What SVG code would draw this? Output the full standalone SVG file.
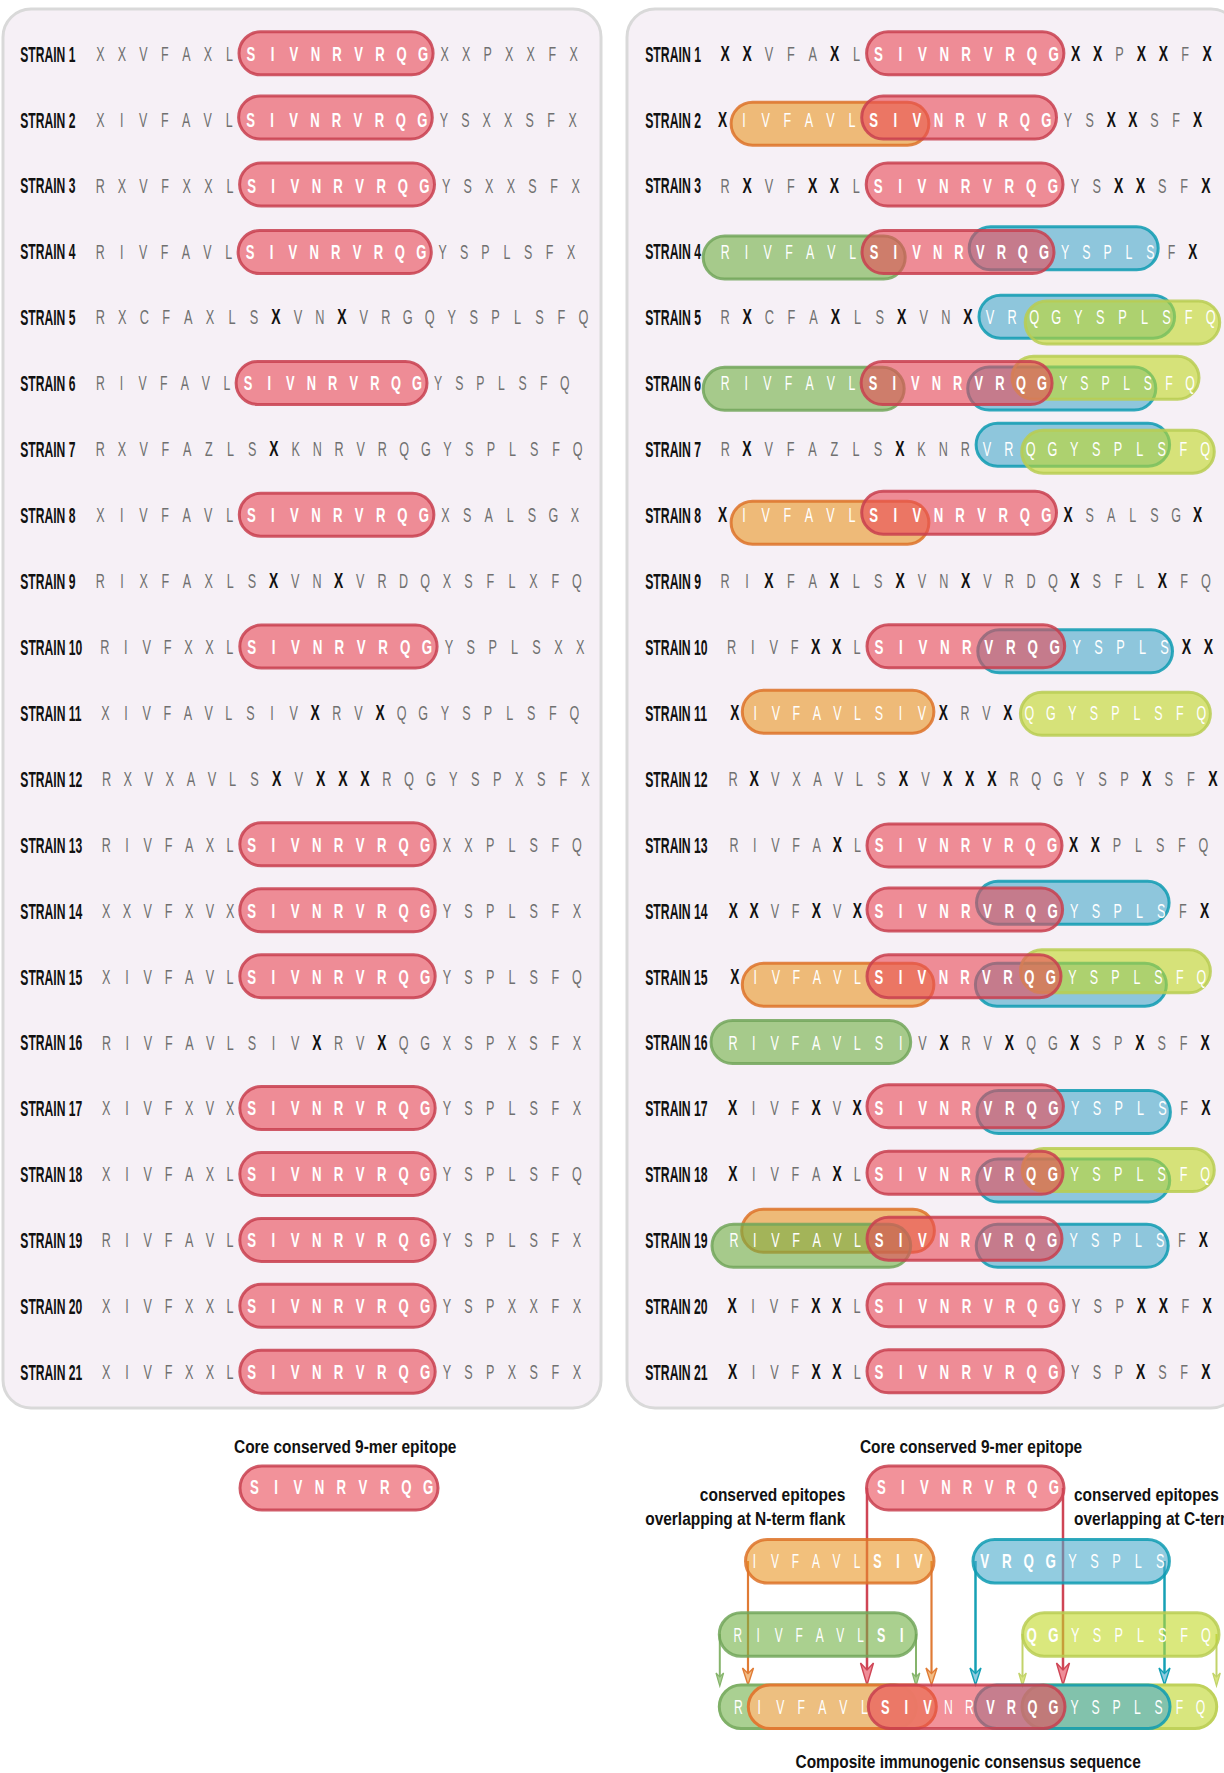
<svg xmlns="http://www.w3.org/2000/svg" width="1224" height="1773" viewBox="0 0 1224 1773">
<style>
text{font-family:"Liberation Sans",Arial,Helvetica,sans-serif}
.g{font-size:20px;fill:#707070;text-anchor:middle}
.b{font-size:22px;font-weight:bold;fill:#111;text-anchor:middle}
.w{font-size:20px;fill:#fff;text-anchor:middle}
.wb{font-size:21px;font-weight:bold;fill:#fff;text-anchor:middle}
.lbl{font-size:22px;font-weight:bold;fill:#111}
.cap{font-size:17.5px;font-weight:bold;fill:#111}
.panel{fill:#f6f0f6;stroke:#d9d9d9;stroke-width:3}
.pr{fill:#e94956;fill-opacity:.6;stroke:#c8404f;stroke-opacity:.85;stroke-width:3}
.po{fill:#e99624;fill-opacity:.6;stroke:#dd7228;stroke-opacity:.85;stroke-width:3}
.pg{fill:#71b145;fill-opacity:.6;stroke:#72a65a;stroke-opacity:.85;stroke-width:3}
.pb{fill:#49aacb;fill-opacity:.6;stroke:#0e9bb1;stroke-opacity:.85;stroke-width:3}
.pl{fill:#c1d927;fill-opacity:.6;stroke:#b8cc52;stroke-opacity:.85;stroke-width:3}
.cpg{fill:#aad092;stroke:#7fb067;stroke-width:3}
.cpo{fill:#f0be80;fill-opacity:.95;stroke:#e07a33;stroke-width:3}
.cpl{fill:#d8e67e;stroke:#bfd15a;stroke-width:3}
.cr{stroke:#cf4555;stroke-width:2.5;fill:none}
.co{stroke:#e07b35;stroke-width:2.2;fill:none}
.cb{stroke:#16a0b5;stroke-width:2.5;fill:none}
.cg{stroke:#86b46c;stroke-width:2;fill:none}
.cl{stroke:#c2d36a;stroke-width:2;fill:none}
</style>
<defs>
<marker id="ah-red" markerUnits="userSpaceOnUse" viewBox="-26 -10 30 20" markerWidth="30" markerHeight="20" refX="-8" refY="0" orient="auto"><path d="M0,0 L-22,-6.5 L-15,0 L-22,6.5 Z" fill="#ef8d98" stroke="#cf4555" stroke-width="1.4"/></marker>
<marker id="ah-orange" markerUnits="userSpaceOnUse" viewBox="-22 -8 26 16" markerWidth="26" markerHeight="16" refX="-6" refY="0" orient="auto"><path d="M0,0 L-17,-5.5 L-11.5,0 L-17,5.5 Z" fill="#f2bd86" stroke="#e07b35" stroke-width="1.4"/></marker>
<marker id="ah-blue" markerUnits="userSpaceOnUse" viewBox="-22 -8 26 16" markerWidth="26" markerHeight="16" refX="-6" refY="0" orient="auto"><path d="M0,0 L-17,-5.5 L-11.5,0 L-17,5.5 Z" fill="#8fcbe0" stroke="#13a0b5" stroke-width="1.4"/></marker>
<marker id="ah-green" markerUnits="userSpaceOnUse" viewBox="-18 -6 22 12" markerWidth="22" markerHeight="12" refX="-5" refY="0" orient="auto"><path d="M0,0 L-13,-3.8 L-9,0 L-13,3.8 Z" fill="#a9cf92" stroke="#86b46c" stroke-width="1.2"/></marker>
<marker id="ah-lime" markerUnits="userSpaceOnUse" viewBox="-18 -6 22 12" markerWidth="22" markerHeight="12" refX="-5" refY="0" orient="auto"><path d="M0,0 L-13,-3.8 L-9,0 L-13,3.8 Z" fill="#d8e57e" stroke="#c2d36a" stroke-width="1.2"/></marker>
</defs>
<rect width="1224" height="1773" fill="#fff"/>

<g id="left-panel">
<rect class="panel" x="3" y="9" width="598" height="1399" rx="28"/>
<g id="left-strain-1">
<rect class="pr" x="239" y="31.8" width="194.1" height="43" rx="21.5"/>
<text class="lbl" transform="translate(20.3 61.6) scale(0.55 1)">STRAIN 1</text>
<g transform="translate(100.3 0) scale(0.6238 1)">
<text class="g" y="60.8" x="0 34.5 69 103.5 138 172.5 207">XXVFAXL</text>
<text class="wb" y="60.8" x="241.5 276 310.5 345 379.5 414 448.5 483 517.5">SIVNRVRQG</text>
<text class="g" y="60.8" x="552 586.5 621 655.5 690 724.5 759">XXPXXFX</text>
</g></g>
<g id="left-strain-2">
<rect class="pr" x="238.6" y="96" width="193.7" height="43" rx="21.5"/>
<text class="lbl" transform="translate(20.3 127.5) scale(0.55 1)">STRAIN 2</text>
<g transform="translate(100.3 0) scale(0.6223 1)">
<text class="g" y="126.7" x="0 34.5 69 103.5 138 172.5 207">XIVFAVL</text>
<text class="wb" y="126.7" x="241.5 276 310.5 345 379.5 414 448.5 483 517.5">SIVNRVRQG</text>
<text class="g" y="126.7" x="552 586.5 621 655.5 690 724.5 759">YSXXSFX</text>
</g></g>
<g id="left-strain-3">
<rect class="pr" x="239.6" y="163" width="194.9" height="43" rx="21.5"/>
<text class="lbl" transform="translate(20.3 193.4) scale(0.55 1)">STRAIN 3</text>
<g transform="translate(100.3 0) scale(0.6264 1)">
<text class="g" y="192.6" x="0 34.5 69 103.5 138 172.5 207">RXVFXXL</text>
<text class="wb" y="192.6" x="241.5 276 310.5 345 379.5 414 448.5 483 517.5">SIVNRVRQG</text>
<text class="g" y="192.6" x="552 586.5 621 655.5 690 724.5 759">YSXXSFX</text>
</g></g>
<g id="left-strain-4">
<rect class="pr" x="238.1" y="230.6" width="193.2" height="43" rx="21.5"/>
<text class="lbl" transform="translate(20.3 259.4) scale(0.55 1)">STRAIN 4</text>
<g transform="translate(100.3 0) scale(0.6202 1)">
<text class="g" y="258.6" x="0 34.5 69 103.5 138 172.5 207">RIVFAVL</text>
<text class="wb" y="258.6" x="241.5 276 310.5 345 379.5 414 448.5 483 517.5">SIVNRVRQG</text>
<text class="g" y="258.6" x="552 586.5 621 655.5 690 724.5 759">YSPLSFX</text>
</g></g>
<g id="left-strain-5">
<text class="lbl" transform="translate(20.3 325.3) scale(0.55 1)">STRAIN 5</text>
<g transform="translate(100.3 0) scale(0.6366 1)">
<text class="g" y="324.5" x="0 34.5 69 103.5 138 172.5 207 241.5">RXCFAXLS</text>
<text class="b" y="324.5" x="276">X</text>
<text class="g" y="324.5" x="310.5 345">VN</text>
<text class="b" y="324.5" x="379.5">X</text>
<text class="g" y="324.5" x="414 448.5 483 517.5 552 586.5 621 655.5 690 724.5 759">VRGQYSPLSFQ</text>
</g></g>
<g id="left-strain-6">
<rect class="pr" x="236.1" y="361.4" width="190.9" height="43" rx="21.5"/>
<text class="lbl" transform="translate(20.3 391.2) scale(0.55 1)">STRAIN 6</text>
<g transform="translate(100.3 0) scale(0.6120 1)">
<text class="g" y="390.4" x="0 34.5 69 103.5 138 172.5 207">RIVFAVL</text>
<text class="wb" y="390.4" x="241.5 276 310.5 345 379.5 414 448.5 483 517.5">SIVNRVRQG</text>
<text class="g" y="390.4" x="552 586.5 621 655.5 690 724.5 759">YSPLSFQ</text>
</g></g>
<g id="left-strain-7">
<text class="lbl" transform="translate(20.3 457.1) scale(0.55 1)">STRAIN 7</text>
<g transform="translate(100.3 0) scale(0.6290 1)">
<text class="g" y="456.3" x="0 34.5 69 103.5 138 172.5 207 241.5">RXVFAZLS</text>
<text class="b" y="456.3" x="276">X</text>
<text class="g" y="456.3" x="310.5 345 379.5 414 448.5 483 517.5 552 586.5 621 655.5 690 724.5 759">KNRVRQGYSPLSFQ</text>
</g></g>
<g id="left-strain-8">
<rect class="pr" x="239.3" y="493.2" width="194.6" height="43" rx="21.5"/>
<text class="lbl" transform="translate(20.3 523) scale(0.55 1)">STRAIN 8</text>
<g transform="translate(100.3 0) scale(0.6254 1)">
<text class="g" y="522.2" x="0 34.5 69 103.5 138 172.5 207">XIVFAVL</text>
<text class="wb" y="522.2" x="241.5 276 310.5 345 379.5 414 448.5 483 517.5">SIVNRVRQG</text>
<text class="g" y="522.2" x="552 586.5 621 655.5 690 724.5 759">XSALSGX</text>
</g></g>
<g id="left-strain-9">
<text class="lbl" transform="translate(20.3 589) scale(0.55 1)">STRAIN 9</text>
<g transform="translate(100.3 0) scale(0.6279 1)">
<text class="g" y="588.2" x="0 34.5 69 103.5 138 172.5 207 241.5">RIXFAXLS</text>
<text class="b" y="588.2" x="276">X</text>
<text class="g" y="588.2" x="310.5 345">VN</text>
<text class="b" y="588.2" x="379.5">X</text>
<text class="g" y="588.2" x="414 448.5 483 517.5 552 586.5 621 655.5 690 724.5 759">VRDQXSFLXFQ</text>
</g></g>
<g id="left-strain-10">
<rect class="pr" x="239.8" y="625.1" width="197.3" height="43" rx="21.5"/>
<text class="lbl" transform="translate(20.3 654.9) scale(0.551 1)">STRAIN 10</text>
<g transform="translate(98.4 0) scale(0.635 1)">
<text class="g" y="654.1" x="10 43 76 109 142 175 207">RIVFXXL</text>
<text class="wb" y="654.1" x="241.5 276 310.5 345 379.5 414 448.5 483 517.5">SIVNRVRQG</text>
<text class="g" y="654.1" x="552 586.5 621 655.5 690 724.5 759">YSPLSXX</text>
</g></g>
<g id="left-strain-11">
<text class="lbl" transform="translate(20.3 720.8) scale(0.551 1)">STRAIN 11</text>
<g transform="translate(99.1 0) scale(0.6263 1)">
<text class="g" y="720" x="10 43 76 109 142 175 207 241.5 276 310.5">XIVFAVLSIV</text>
<text class="b" y="720" x="345">X</text>
<text class="g" y="720" x="379.5 414">RV</text>
<text class="b" y="720" x="448.5">X</text>
<text class="g" y="720" x="483 517.5 552 586.5 621 655.5 690 724.5 759">QGYSPLSFQ</text>
</g></g>
<g id="left-strain-12">
<text class="lbl" transform="translate(20.3 786.7) scale(0.551 1)">STRAIN 12</text>
<g transform="translate(100.2 0) scale(0.6394 1)">
<text class="g" y="785.9" x="10 43 76 109 142 175 207 241.5">RXVXAVLS</text>
<text class="b" y="785.9" x="276">X</text>
<text class="g" y="785.9" x="310.5">V</text>
<text class="b" y="785.9" x="345 379.5 414">XXX</text>
<text class="g" y="785.9" x="448.5 483 517.5 552 586.5 621 655.5 690 724.5 759">RQGYSPXSFX</text>
</g></g>
<g id="left-strain-13">
<rect class="pr" x="239.8" y="822.8" width="195.4" height="43" rx="21.5"/>
<text class="lbl" transform="translate(20.3 852.6) scale(0.551 1)">STRAIN 13</text>
<g transform="translate(100 0) scale(0.6284 1)">
<text class="g" y="851.8" x="10 43 76 109 142 175 207">RIVFAXL</text>
<text class="wb" y="851.8" x="241.5 276 310.5 345 379.5 414 448.5 483 517.5">SIVNRVRQG</text>
<text class="g" y="851.8" x="552 586.5 621 655.5 690 724.5 759">XXPLSFQ</text>
</g></g>
<g id="left-strain-14">
<rect class="pr" x="239.8" y="888.8" width="195.4" height="43" rx="21.5"/>
<text class="lbl" transform="translate(20.3 918.6) scale(0.551 1)">STRAIN 14</text>
<g transform="translate(100 0) scale(0.6284 1)">
<text class="g" y="917.8" x="10 43 76 109 142 175 207">XXVFXVX</text>
<text class="wb" y="917.8" x="241.5 276 310.5 345 379.5 414 448.5 483 517.5">SIVNRVRQG</text>
<text class="g" y="917.8" x="552 586.5 621 655.5 690 724.5 759">YSPLSFX</text>
</g></g>
<g id="left-strain-15">
<rect class="pr" x="239.8" y="954.7" width="195.4" height="43" rx="21.5"/>
<text class="lbl" transform="translate(20.3 984.5) scale(0.551 1)">STRAIN 15</text>
<g transform="translate(100 0) scale(0.6284 1)">
<text class="g" y="983.7" x="10 43 76 109 142 175 207">XIVFAVL</text>
<text class="wb" y="983.7" x="241.5 276 310.5 345 379.5 414 448.5 483 517.5">SIVNRVRQG</text>
<text class="g" y="983.7" x="552 586.5 621 655.5 690 724.5 759">YSPLSFQ</text>
</g></g>
<g id="left-strain-16">
<text class="lbl" transform="translate(20.3 1050.4) scale(0.551 1)">STRAIN 16</text>
<g transform="translate(100.3 0) scale(0.6279 1)">
<text class="g" y="1049.6" x="10 43 76 109 142 175 207 241.5 276 310.5">RIVFAVLSIV</text>
<text class="b" y="1049.6" x="345">X</text>
<text class="g" y="1049.6" x="379.5 414">RV</text>
<text class="b" y="1049.6" x="448.5">X</text>
<text class="g" y="1049.6" x="483 517.5 552 586.5 621 655.5 690 724.5 759">QGXSPXSFX</text>
</g></g>
<g id="left-strain-17">
<rect class="pr" x="239.8" y="1086.5" width="195.4" height="43" rx="21.5"/>
<text class="lbl" transform="translate(20.3 1116.3) scale(0.551 1)">STRAIN 17</text>
<g transform="translate(100 0) scale(0.6284 1)">
<text class="g" y="1115.5" x="10 43 76 109 142 175 207">XIVFXVX</text>
<text class="wb" y="1115.5" x="241.5 276 310.5 345 379.5 414 448.5 483 517.5">SIVNRVRQG</text>
<text class="g" y="1115.5" x="552 586.5 621 655.5 690 724.5 759">YSPLSFX</text>
</g></g>
<g id="left-strain-18">
<rect class="pr" x="239.8" y="1152.4" width="195.4" height="43" rx="21.5"/>
<text class="lbl" transform="translate(20.3 1182.2) scale(0.551 1)">STRAIN 18</text>
<g transform="translate(100 0) scale(0.6284 1)">
<text class="g" y="1181.4" x="10 43 76 109 142 175 207">XIVFAXL</text>
<text class="wb" y="1181.4" x="241.5 276 310.5 345 379.5 414 448.5 483 517.5">SIVNRVRQG</text>
<text class="g" y="1181.4" x="552 586.5 621 655.5 690 724.5 759">YSPLSFQ</text>
</g></g>
<g id="left-strain-19">
<rect class="pr" x="239.8" y="1218.4" width="195.4" height="43" rx="21.5"/>
<text class="lbl" transform="translate(20.3 1248.2) scale(0.551 1)">STRAIN 19</text>
<g transform="translate(100 0) scale(0.6284 1)">
<text class="g" y="1247.4" x="10 43 76 109 142 175 207">RIVFAVL</text>
<text class="wb" y="1247.4" x="241.5 276 310.5 345 379.5 414 448.5 483 517.5">SIVNRVRQG</text>
<text class="g" y="1247.4" x="552 586.5 621 655.5 690 724.5 759">YSPLSFX</text>
</g></g>
<g id="left-strain-20">
<rect class="pr" x="239.8" y="1284.3" width="195.4" height="43" rx="21.5"/>
<text class="lbl" transform="translate(20.3 1314.1) scale(0.551 1)">STRAIN 20</text>
<g transform="translate(100 0) scale(0.6284 1)">
<text class="g" y="1313.3" x="10 43 76 109 142 175 207">XIVFXXL</text>
<text class="wb" y="1313.3" x="241.5 276 310.5 345 379.5 414 448.5 483 517.5">SIVNRVRQG</text>
<text class="g" y="1313.3" x="552 586.5 621 655.5 690 724.5 759">YSPXXFX</text>
</g></g>
<g id="left-strain-21">
<rect class="pr" x="239.8" y="1350.2" width="195.4" height="43" rx="21.5"/>
<text class="lbl" transform="translate(20.3 1380) scale(0.551 1)">STRAIN 21</text>
<g transform="translate(100 0) scale(0.6284 1)">
<text class="g" y="1379.2" x="10 43 76 109 142 175 207">XIVFXXL</text>
<text class="wb" y="1379.2" x="241.5 276 310.5 345 379.5 414 448.5 483 517.5">SIVNRVRQG</text>
<text class="g" y="1379.2" x="552 586.5 621 655.5 690 724.5 759">YSPXSFX</text>
</g></g>
</g>

<g id="right-panel">
<rect class="panel" x="627" y="9" width="612" height="1399" rx="28"/>
<g id="right-strain-1">
<rect class="pr" x="866.6" y="31.8" width="197.3" height="43" rx="21.5"/>
<text class="lbl" transform="translate(645.2 61.6) scale(0.557 1)">STRAIN 1</text>
<g transform="translate(725.2 0) scale(0.635 1)">
<text class="b" y="60.8" x="0 34.5">XX</text>
<text class="g" y="60.8" x="69 103.5 138">VFA</text>
<text class="b" y="60.8" x="172.5">X</text>
<text class="g" y="60.8" x="207">L</text>
<text class="wb" y="60.8" x="241.5 276 310.5 345 379.5 414 448.5 483 517.5">SIVNRVRQG</text>
<text class="b" y="60.8" x="552 586.5">XX</text>
<text class="g" y="60.8" x="621">P</text>
<text class="b" y="60.8" x="655.5 690">XX</text>
<text class="g" y="60.8" x="724.5">F</text>
<text class="b" y="60.8" x="759">X</text>
</g></g>
<g id="right-strain-2">
<rect class="po" x="731.1" y="102.2" width="197.8" height="43" rx="21.5"/>
<rect class="pr" x="861.7" y="96" width="194.8" height="43" rx="21.5"/>
<text class="lbl" transform="translate(645.2 127.5) scale(0.557 1)">STRAIN 2</text>
<g transform="translate(722.5 0) scale(0.626 1)">
<text class="b" y="126.7" x="0">X</text>
<text class="w" y="126.7" x="34.5 69 103.5 138 172.5 207">IVFAVL</text>
<text class="wb" y="126.7" x="241.5 276 310.5 345 379.5 414 448.5 483 517.5">SIVNRVRQG</text>
<text class="g" y="126.7" x="552 586.5">YS</text>
<text class="b" y="126.7" x="621 655.5">XX</text>
<text class="g" y="126.7" x="690 724.5">SF</text>
<text class="b" y="126.7" x="759">X</text>
</g></g>
<g id="right-strain-3">
<rect class="pr" x="866.2" y="163" width="196.8" height="43" rx="21.5"/>
<text class="lbl" transform="translate(645.2 193.4) scale(0.557 1)">STRAIN 3</text>
<g transform="translate(725.2 0) scale(0.6335 1)">
<text class="g" y="192.6" x="0">R</text>
<text class="b" y="192.6" x="34.5">X</text>
<text class="g" y="192.6" x="69 103.5">VF</text>
<text class="b" y="192.6" x="138 172.5">XX</text>
<text class="g" y="192.6" x="207">L</text>
<text class="wb" y="192.6" x="241.5 276 310.5 345 379.5 414 448.5 483 517.5">SIVNRVRQG</text>
<text class="g" y="192.6" x="552 586.5">YS</text>
<text class="b" y="192.6" x="621 655.5">XX</text>
<text class="g" y="192.6" x="690 724.5">SF</text>
<text class="b" y="192.6" x="759">X</text>
</g></g>
<g id="right-strain-4">
<rect class="pg" x="703.2" y="236" width="202" height="43" rx="21.5"/>
<rect class="pb" x="969.2" y="226.8" width="189" height="43" rx="21.5"/>
<rect class="pr" x="862" y="230.5" width="192" height="43" rx="21.5"/>
<text class="lbl" transform="translate(645.2 259.4) scale(0.557 1)">STRAIN 4</text>
<g transform="translate(725.2 0) scale(0.616 1)">
<text class="w" y="258.6" x="0 34.5 69 103.5 138 172.5 207">RIVFAVL</text>
<text class="wb" y="258.6" x="241.5 276 310.5 345 379.5 414 448.5 483 517.5">SIVNRVRQG</text>
<text class="w" y="258.6" x="552 586.5 621 655.5 690">YSPLS</text>
<text class="g" y="258.6" x="724.5">F</text>
<text class="b" y="258.6" x="759">X</text>
</g></g>
<g id="right-strain-5">
<rect class="pb" x="979" y="295.2" width="195.6" height="43" rx="21.5"/>
<rect class="pl" x="1025.2" y="301" width="194.5" height="43" rx="21.5"/>
<text class="lbl" transform="translate(645.2 325.3) scale(0.557 1)">STRAIN 5</text>
<g transform="translate(725.2 0) scale(0.6397 1)">
<text class="g" y="324.5" x="0">R</text>
<text class="b" y="324.5" x="34.5">X</text>
<text class="g" y="324.5" x="69 103.5 138">CFA</text>
<text class="b" y="324.5" x="172.5">X</text>
<text class="g" y="324.5" x="207 241.5">LS</text>
<text class="b" y="324.5" x="276">X</text>
<text class="g" y="324.5" x="310.5 345">VN</text>
<text class="b" y="324.5" x="379.5">X</text>
<text class="w" y="324.5" x="414 448.5 483 517.5 552 586.5 621 655.5 690 724.5 759">VRQGYSPLSFQ</text>
</g></g>
<g id="right-strain-6">
<rect class="pg" x="703.2" y="367.3" width="201" height="43" rx="21.5"/>
<rect class="pb" x="967.7" y="367" width="188.1" height="43" rx="21.5"/>
<rect class="pl" x="1012" y="356.3" width="187" height="43" rx="21.5"/>
<rect class="pr" x="861.1" y="361.5" width="191" height="43" rx="21.5"/>
<text class="lbl" transform="translate(645.2 391.2) scale(0.557 1)">STRAIN 6</text>
<g transform="translate(725.2 0) scale(0.6124 1)">
<text class="w" y="390.4" x="0 34.5 69 103.5 138 172.5 207">RIVFAVL</text>
<text class="wb" y="390.4" x="241.5 276 310.5 345 379.5 414 448.5 483 517.5">SIVNRVRQG</text>
<text class="w" y="390.4" x="552 586.5 621 655.5 690 724.5 759">YSPLSFQ</text>
</g></g>
<g id="right-strain-7">
<rect class="pb" x="976.1" y="423.2" width="193.5" height="43" rx="21.5"/>
<rect class="pl" x="1021.7" y="430.2" width="192.6" height="43" rx="21.5"/>
<text class="lbl" transform="translate(645.2 457.1) scale(0.557 1)">STRAIN 7</text>
<g transform="translate(725.2 0) scale(0.6325 1)">
<text class="g" y="456.3" x="0">R</text>
<text class="b" y="456.3" x="34.5">X</text>
<text class="g" y="456.3" x="69 103.5 138 172.5 207 241.5">VFAZLS</text>
<text class="b" y="456.3" x="276">X</text>
<text class="g" y="456.3" x="310.5 345 379.5">KNR</text>
<text class="w" y="456.3" x="414 448.5 483 517.5 552 586.5 621 655.5 690 724.5 759">VRQGYSPLSFQ</text>
</g></g>
<g id="right-strain-8">
<rect class="po" x="731.1" y="501.2" width="197.8" height="43" rx="21.5"/>
<rect class="pr" x="861.7" y="491.2" width="194.8" height="43" rx="21.5"/>
<text class="lbl" transform="translate(645.2 523) scale(0.557 1)">STRAIN 8</text>
<g transform="translate(722.5 0) scale(0.626 1)">
<text class="b" y="522.2" x="0">X</text>
<text class="w" y="522.2" x="34.5 69 103.5 138 172.5 207">IVFAVL</text>
<text class="wb" y="522.2" x="241.5 276 310.5 345 379.5 414 448.5 483 517.5">SIVNRVRQG</text>
<text class="b" y="522.2" x="552">X</text>
<text class="g" y="522.2" x="586.5 621 655.5 690 724.5">SALSG</text>
<text class="b" y="522.2" x="759">X</text>
</g></g>
<g id="right-strain-9">
<text class="lbl" transform="translate(645.2 589) scale(0.557 1)">STRAIN 9</text>
<g transform="translate(725.2 0) scale(0.6335 1)">
<text class="g" y="588.2" x="0 34.5">RI</text>
<text class="b" y="588.2" x="69">X</text>
<text class="g" y="588.2" x="103.5 138">FA</text>
<text class="b" y="588.2" x="172.5">X</text>
<text class="g" y="588.2" x="207 241.5">LS</text>
<text class="b" y="588.2" x="276">X</text>
<text class="g" y="588.2" x="310.5 345">VN</text>
<text class="b" y="588.2" x="379.5">X</text>
<text class="g" y="588.2" x="414 448.5 483 517.5">VRDQ</text>
<text class="b" y="588.2" x="552">X</text>
<text class="g" y="588.2" x="586.5 621 655.5">SFL</text>
<text class="b" y="588.2" x="690">X</text>
<text class="g" y="588.2" x="724.5 759">FQ</text>
</g></g>
<g id="right-strain-10">
<rect class="pb" x="977.8" y="629.8" width="194.7" height="43" rx="21.5"/>
<rect class="pr" x="867" y="624.8" width="197.7" height="43" rx="21.5"/>
<text class="lbl" transform="translate(645.2 654.9) scale(0.555 1)">STRAIN 10</text>
<g transform="translate(725.3 0) scale(0.6365 1)">
<text class="g" y="654.1" x="10 43 76 109">RIVF</text>
<text class="b" y="654.1" x="142 175">XX</text>
<text class="g" y="654.1" x="207">L</text>
<text class="wb" y="654.1" x="241.5 276 310.5 345 379.5 414 448.5 483 517.5">SIVNRVRQG</text>
<text class="w" y="654.1" x="552 586.5 621 655.5 690">YSPLS</text>
<text class="b" y="654.1" x="724.5 759">XX</text>
</g></g>
<g id="right-strain-11">
<rect class="po" x="742.3" y="690.2" width="191.6" height="43" rx="21.5"/>
<rect class="pl" x="1020.4" y="692.3" width="190" height="43" rx="21.5"/>
<text class="lbl" transform="translate(645.2 720.8) scale(0.555 1)">STRAIN 11</text>
<g transform="translate(728.5 0) scale(0.623 1)">
<text class="b" y="720" x="10">X</text>
<text class="w" y="720" x="43 76 109 142 175 207 241.5 276 310.5">IVFAVLSIV</text>
<text class="b" y="720" x="345">X</text>
<text class="g" y="720" x="379.5 414">RV</text>
<text class="b" y="720" x="448.5">X</text>
<text class="w" y="720" x="483 517.5 552 586.5 621 655.5 690 724.5 759">QGYSPLSFQ</text>
</g></g>
<g id="right-strain-12">
<text class="lbl" transform="translate(645.2 786.7) scale(0.555 1)">STRAIN 12</text>
<g transform="translate(726.6 0) scale(0.6409 1)">
<text class="g" y="785.9" x="10">R</text>
<text class="b" y="785.9" x="43">X</text>
<text class="g" y="785.9" x="76 109 142 175 207 241.5">VXAVLS</text>
<text class="b" y="785.9" x="276">X</text>
<text class="g" y="785.9" x="310.5">V</text>
<text class="b" y="785.9" x="345 379.5 414">XXX</text>
<text class="g" y="785.9" x="448.5 483 517.5 552 586.5 621">RQGYSP</text>
<text class="b" y="785.9" x="655.5">X</text>
<text class="g" y="785.9" x="690 724.5">SF</text>
<text class="b" y="785.9" x="759">X</text>
</g></g>
<g id="right-strain-13">
<rect class="pr" x="867" y="824" width="195" height="43" rx="21.5"/>
<text class="lbl" transform="translate(645.2 852.6) scale(0.555 1)">STRAIN 13</text>
<g transform="translate(727.7 0) scale(0.6267 1)">
<text class="g" y="851.8" x="10 43 76 109 142">RIVFA</text>
<text class="b" y="851.8" x="175">X</text>
<text class="g" y="851.8" x="207">L</text>
<text class="wb" y="851.8" x="241.5 276 310.5 345 379.5 414 448.5 483 517.5">SIVNRVRQG</text>
<text class="b" y="851.8" x="552 586.5">XX</text>
<text class="g" y="851.8" x="621 655.5 690 724.5 759">PLSFQ</text>
</g></g>
<g id="right-strain-14">
<rect class="pb" x="976.5" y="881.3" width="192.6" height="43" rx="21.5"/>
<rect class="pr" x="867" y="888" width="195.6" height="43" rx="21.5"/>
<text class="lbl" transform="translate(645.2 918.6) scale(0.555 1)">STRAIN 14</text>
<g transform="translate(727.1 0) scale(0.629 1)">
<text class="b" y="917.8" x="10 43">XX</text>
<text class="g" y="917.8" x="76 109">VF</text>
<text class="b" y="917.8" x="142">X</text>
<text class="g" y="917.8" x="175">V</text>
<text class="b" y="917.8" x="207">X</text>
<text class="wb" y="917.8" x="241.5 276 310.5 345 379.5 414 448.5 483 517.5">SIVNRVRQG</text>
<text class="w" y="917.8" x="552 586.5 621 655.5 690">YSPLS</text>
<text class="g" y="917.8" x="724.5">F</text>
<text class="b" y="917.8" x="759">X</text>
</g></g>
<g id="right-strain-15">
<rect class="po" x="742.3" y="963.2" width="191.6" height="43" rx="21.5"/>
<rect class="pb" x="975.4" y="963.2" width="191" height="43" rx="21.5"/>
<rect class="pl" x="1020.4" y="949.8" width="190" height="43" rx="21.5"/>
<rect class="pr" x="867" y="954.7" width="194" height="43" rx="21.5"/>
<text class="lbl" transform="translate(645.2 984.5) scale(0.555 1)">STRAIN 15</text>
<g transform="translate(728.5 0) scale(0.623 1)">
<text class="b" y="983.7" x="10">X</text>
<text class="w" y="983.7" x="43 76 109 142 175 207">IVFAVL</text>
<text class="wb" y="983.7" x="241.5 276 310.5 345 379.5 414 448.5 483 517.5">SIVNRVRQG</text>
<text class="w" y="983.7" x="552 586.5 621 655.5 690 724.5 759">YSPLSFQ</text>
</g></g>
<g id="right-strain-16">
<rect class="pg" x="711" y="1020.5" width="199.7" height="43" rx="21.5"/>
<text class="lbl" transform="translate(645.2 1050.4) scale(0.555 1)">STRAIN 16</text>
<g transform="translate(726.7 0) scale(0.6305 1)">
<text class="w" y="1049.6" x="10 43 76 109 142 175 207 241.5 276">RIVFAVLSI</text>
<text class="g" y="1049.6" x="310.5">V</text>
<text class="b" y="1049.6" x="345">X</text>
<text class="g" y="1049.6" x="379.5 414">RV</text>
<text class="b" y="1049.6" x="448.5">X</text>
<text class="g" y="1049.6" x="483 517.5">QG</text>
<text class="b" y="1049.6" x="552">X</text>
<text class="g" y="1049.6" x="586.5 621">SP</text>
<text class="b" y="1049.6" x="655.5">X</text>
<text class="g" y="1049.6" x="690 724.5">SF</text>
<text class="b" y="1049.6" x="759">X</text>
</g></g>
<g id="right-strain-17">
<rect class="pb" x="977" y="1090.5" width="193.4" height="43" rx="21.5"/>
<rect class="pr" x="867" y="1084.8" width="196.4" height="43" rx="21.5"/>
<text class="lbl" transform="translate(645.2 1116.3) scale(0.555 1)">STRAIN 17</text>
<g transform="translate(726.4 0) scale(0.6319 1)">
<text class="b" y="1115.5" x="10">X</text>
<text class="g" y="1115.5" x="43 76 109">IVF</text>
<text class="b" y="1115.5" x="142">X</text>
<text class="g" y="1115.5" x="175">V</text>
<text class="b" y="1115.5" x="207">X</text>
<text class="wb" y="1115.5" x="241.5 276 310.5 345 379.5 414 448.5 483 517.5">SIVNRVRQG</text>
<text class="w" y="1115.5" x="552 586.5 621 655.5 690">YSPLS</text>
<text class="g" y="1115.5" x="724.5">F</text>
<text class="b" y="1115.5" x="759">X</text>
</g></g>
<g id="right-strain-18">
<rect class="pb" x="976.7" y="1159" width="193" height="43" rx="21.5"/>
<rect class="pl" x="1022.2" y="1148.5" width="192.1" height="43" rx="21.5"/>
<rect class="pr" x="867" y="1151.3" width="196" height="43" rx="21.5"/>
<text class="lbl" transform="translate(645.2 1182.2) scale(0.555 1)">STRAIN 18</text>
<g transform="translate(726.7 0) scale(0.6305 1)">
<text class="b" y="1181.4" x="10">X</text>
<text class="g" y="1181.4" x="43 76 109 142">IVFA</text>
<text class="b" y="1181.4" x="175">X</text>
<text class="g" y="1181.4" x="207">L</text>
<text class="wb" y="1181.4" x="241.5 276 310.5 345 379.5 414 448.5 483 517.5">SIVNRVRQG</text>
<text class="w" y="1181.4" x="552 586.5 621 655.5 690 724.5 759">YSPLSFQ</text>
</g></g>
<g id="right-strain-19">
<rect class="po" x="741.7" y="1209.3" width="192.7" height="43" rx="21.5"/>
<rect class="pg" x="712" y="1224.3" width="198.7" height="43" rx="21.5"/>
<rect class="pb" x="976.2" y="1224.3" width="192" height="43" rx="21.5"/>
<rect class="pr" x="867" y="1217.2" width="195" height="43" rx="21.5"/>
<text class="lbl" transform="translate(645.2 1248.2) scale(0.555 1)">STRAIN 19</text>
<g transform="translate(727.7 0) scale(0.6267 1)">
<text class="w" y="1247.4" x="10 43 76 109 142 175 207">RIVFAVL</text>
<text class="wb" y="1247.4" x="241.5 276 310.5 345 379.5 414 448.5 483 517.5">SIVNRVRQG</text>
<text class="w" y="1247.4" x="552 586.5 621 655.5 690">YSPLS</text>
<text class="g" y="1247.4" x="724.5">F</text>
<text class="b" y="1247.4" x="759">X</text>
</g></g>
<g id="right-strain-20">
<rect class="pr" x="867" y="1283.8" width="197" height="43" rx="21.5"/>
<text class="lbl" transform="translate(645.2 1314.1) scale(0.555 1)">STRAIN 20</text>
<g transform="translate(725.8 0) scale(0.6342 1)">
<text class="b" y="1313.3" x="10">X</text>
<text class="g" y="1313.3" x="43 76 109">IVF</text>
<text class="b" y="1313.3" x="142 175">XX</text>
<text class="g" y="1313.3" x="207">L</text>
<text class="wb" y="1313.3" x="241.5 276 310.5 345 379.5 414 448.5 483 517.5">SIVNRVRQG</text>
<text class="g" y="1313.3" x="552 586.5 621">YSP</text>
<text class="b" y="1313.3" x="655.5 690">XX</text>
<text class="g" y="1313.3" x="724.5">F</text>
<text class="b" y="1313.3" x="759">X</text>
</g></g>
<g id="right-strain-21">
<rect class="pr" x="867" y="1349.8" width="196.4" height="43" rx="21.5"/>
<text class="lbl" transform="translate(645.2 1380) scale(0.555 1)">STRAIN 21</text>
<g transform="translate(726.4 0) scale(0.6319 1)">
<text class="b" y="1379.2" x="10">X</text>
<text class="g" y="1379.2" x="43 76 109">IVF</text>
<text class="b" y="1379.2" x="142 175">XX</text>
<text class="g" y="1379.2" x="207">L</text>
<text class="wb" y="1379.2" x="241.5 276 310.5 345 379.5 414 448.5 483 517.5">SIVNRVRQG</text>
<text class="g" y="1379.2" x="552 586.5 621">YSP</text>
<text class="b" y="1379.2" x="655.5">X</text>
<text class="g" y="1379.2" x="690 724.5">SF</text>
<text class="b" y="1379.2" x="759">X</text>
</g></g>
</g>

<g id="core-epitope-left">
<text class="cap" transform="translate(234 1453) scale(0.884 1)">Core conserved 9-mer epitope</text>
<rect class="pr" x="240" y="1466" width="198" height="44" rx="22"/>
<g transform="translate(254.5 0) scale(0.629 1)"><text class="wb" y="1494" x="0 34.5 69 103.5 138 172.5 207 241.5 276">SIVNRVRQG</text></g>
</g>

<g id="core-epitope-right">
<text class="cap" transform="translate(859.9 1453) scale(0.883 1)">Core conserved 9-mer epitope</text>
<rect class="pr" x="866.5" y="1466" width="197.5" height="44" rx="22"/>
<g transform="translate(881.3 0) scale(0.625 1)"><text class="wb" y="1494" x="0 34.5 69 103.5 138 172.5 207 241.5 276">SIVNRVRQG</text></g>
</g>
<g id="label-n-term">
<text class="cap" transform="translate(699.8 1501) scale(0.886 1)">conserved epitopes</text>
<text class="cap" transform="translate(645.2 1525) scale(0.884 1)">overlapping at N-term flank</text>
</g>
<g id="label-c-term">
<text class="cap" transform="translate(1074 1501) scale(0.882 1)">conserved epitopes</text>
<text class="cap" transform="translate(1074 1525) scale(0.884 1)">overlapping at C-term flank</text>
</g>

<g id="connectors">
<path class="cr" d="M867 1488V1677" marker-end="url(#ah-red)"/>
<path class="cr" d="M1063 1488V1677" marker-end="url(#ah-red)"/>
<path class="co" d="M748 1561V1679" marker-end="url(#ah-orange)"/>
<path class="co" d="M931.5 1561V1679" marker-end="url(#ah-orange)"/>
<path class="cb" d="M975.5 1561V1679" marker-end="url(#ah-blue)"/>
<path class="cb" d="M1164.5 1561V1679" marker-end="url(#ah-blue)"/>
<path class="cg" d="M719.8 1634V1681" marker-end="url(#ah-green)"/>
<path class="cg" d="M916 1634V1681" marker-end="url(#ah-green)"/>
<path class="cl" d="M1022.5 1634V1681" marker-end="url(#ah-lime)"/>
<path class="cl" d="M1216.5 1634V1681" marker-end="url(#ah-lime)"/>
</g>

<g id="epitope-n-orange">
<rect class="po" x="745.5" y="1539.5" width="188.5" height="43.5" rx="21.75"/>
<g transform="translate(754.5 0) scale(0.594 1)">
<text class="w" y="1568.5" x="0 34.5 69 103.5 138 172.5">IVFAVL</text>
<text class="wb" y="1568.5" x="207 241.5 276">SIV</text>
</g></g>
<g id="epitope-c-blue">
<rect class="pb" x="973" y="1539.5" width="196.4" height="43.5" rx="21.75"/>
<g transform="translate(984.8 0) scale(0.636 1)">
<text class="wb" y="1568.5" x="0 34.5 69 103.5">VRQG</text>
<text class="w" y="1568.5" x="138 172.5 207 241.5 276">YSPLS</text>
</g></g>
<g id="epitope-n-green">
<rect class="pg" x="719.3" y="1612.7" width="197" height="43.5" rx="21.75"/>
<g transform="translate(737.7 0) scale(0.594 1)">
<text class="w" y="1641.8" x="0 34.5 69 103.5 138 172.5 207">RIVFAVL</text>
<text class="wb" y="1641.8" x="241.5 276">SI</text>
</g></g>
<g id="epitope-c-lime">
<rect class="pl" x="1022.6" y="1612.7" width="196.4" height="43.5" rx="21.75"/>
<g transform="translate(1031.6 0) scale(0.632 1)">
<text class="wb" y="1641.8" x="0 34.5">QG</text>
<text class="w" y="1641.8" x="69 103.5 138 172.5 207 241.5 276">YSPLSFQ</text>
</g></g>

<g id="composite-sequence">
<rect class="cpg" x="719.3" y="1685" width="197" height="43.5" rx="21.75"/>
<rect class="cpo" x="748.3" y="1685" width="188" height="43.5" rx="21.75"/>
<rect class="cpl" x="1022" y="1685" width="194.7" height="43.5" rx="21.75"/>
<rect class="pb" x="975" y="1685" width="195" height="43.5" rx="21.75"/>
<rect class="pr" x="868.3" y="1685" width="196.7" height="43.5" rx="21.75"/>
<g transform="translate(738.3 0) scale(0.609 1)">
<text class="w" y="1714.5" x="0 34.5 69 103.5 138 172.5 207">RIVFAVL</text>
<text class="wb" y="1714.5" x="241.5 276 310.5">SIV</text>
<text class="w" y="1714.5" x="345 379.5">NR</text>
<text class="wb" y="1714.5" x="414 448.5 483 517.5">VRQG</text>
<text class="w" y="1714.5" x="552 586.5 621 655.5 690 724.5 759">YSPLSFQ</text>
</g>
<text class="cap" transform="translate(795.5 1768) scale(0.884 1)">Composite immunogenic consensus sequence</text>
</g>
</svg>
